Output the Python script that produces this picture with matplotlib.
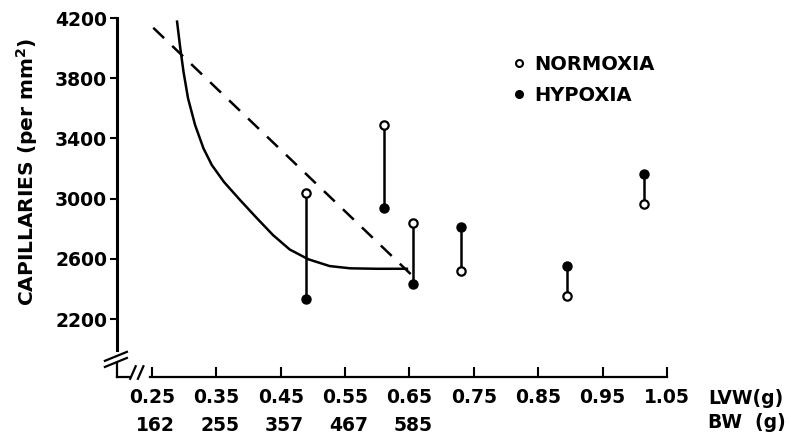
import matplotlib.pyplot as plt
from matplotlib.lines import Line2D

plt.rcParams['font.weight'] = 'bold'

# paired measurements (LVW in g, capillaries per mm2)
lvw = [0.49, 0.61, 0.655, 0.73, 0.895, 1.015]
normoxia = [3040, 3490, 2840, 2520, 2350, 2965]
hypoxia = [2335, 2940, 2435, 2810, 2555, 3165]

# solid fitted curve
curve_x = [0.289, 0.294, 0.299, 0.306, 0.317, 0.330, 0.343, 0.362, 0.387,
           0.413, 0.438, 0.464, 0.493, 0.526, 0.558, 0.599, 0.646]
curve_y = [4176, 3999, 3843, 3667, 3489, 3334, 3223, 3110, 2990,
           2870, 2758, 2662, 2597, 2552, 2537, 2534, 2534]

# dashed line
dash_x = [0.252, 0.654]
dash_y = [4135, 2490]

# axis ticks
xticks = [0.25, 0.35, 0.45, 0.55, 0.65, 0.75, 0.85, 0.95, 1.05]
bw = ['162', '255', '357', '467', '585', '', '', '', '']
yticks = [2200, 2600, 3000, 3400, 3800, 4200]

fig = plt.figure(figsize=(7.91, 4.36), dpi=100)
ax = fig.add_axes([117 / 791, 59 / 436, 550 / 791, 359 / 436])
ax.set_xlim(0.1957, 1.05)
ax.set_ylim(1815, 4200)

# vertical connectors and markers
for x, n, h in zip(lvw, normoxia, hypoxia):
    ax.plot([x, x], [n, h], color='black', lw=1.8, clip_on=False)
ax.plot(lvw, hypoxia, 'o', color='black', ms=6.5, clip_on=False, zorder=3)
ax.plot(lvw, normoxia, 'o', mfc='white', mec='black', mew=1.6, ms=6, clip_on=False, zorder=3)

ax.plot(curve_x, curve_y, color='black', lw=1.8, solid_joinstyle='round')
ax.plot(dash_x, dash_y, color='black', lw=1.8, dashes=(6, 4.5))

# spines
for s in ['top', 'right']:
    ax.spines[s].set_visible(False)
ax.spines['left'].set_linewidth(2.2)
ax.spines['bottom'].set_linewidth(1.6)
ax.spines['left'].set_bounds(1994, 4200)
ax.spines['bottom'].set_bounds(0.247, 1.05)

# axis break marks
brk = dict(color='black', lw=1.6, transform=ax.transAxes, clip_on=False)
ax.plot([0, 0], [0, 0.035], **brk)
ax.plot([0, 0.022], [0, 0], **brk)
ax.plot([-0.022, 0.018], [0.045, 0.07], **brk)
ax.plot([-0.022, 0.018], [0.028, 0.053], **brk)
ax.plot([0.024, 0.034], [-0.005, 0.03], **brk)
ax.plot([0.038, 0.048], [-0.005, 0.03], **brk)

ax.set_xticks(xticks)
ax.set_xticklabels(['%.2f\n%s' % (t, b) if b else '%.2f' % t for t, b in zip(xticks, bw)])
ax.set_yticks(yticks)
ax.tick_params(axis='x', direction='in', length=7, width=1.5, pad=8, labelsize=13.5)
ax.tick_params(axis='y', direction='out', length=5, width=1.5, pad=2, labelsize=13.5)
for lab in ax.get_xticklabels():
    lab.set_multialignment('right')
    lab.set_linespacing(1.6)

fig.text(27 / 791, 1 - 172 / 436, 'CAPILLARIES (per mm$^2$)', rotation=90,
         ha='center', va='center', fontsize=14.5)
fig.text(708 / 791, 1 - 398 / 436, 'LVW(g)', ha='left', va='center', fontsize=13.5)
fig.text(708 / 791, 1 - 422 / 436, 'BW  (g)', ha='left', va='center', fontsize=13.5)

handles = [
    Line2D([], [], marker='o', ls='none', mfc='white', mec='black', mew=1.5, ms=5, label='NORMOXIA'),
    Line2D([], [], marker='o', ls='none', color='black', ms=5.5, label='HYPOXIA'),
]
ax.legend(handles=handles, loc='upper left', bbox_to_anchor=((511 - 117) / 550, (377 - 55) / 359),
          frameon=False, fontsize=14, handlelength=0.8, handletextpad=0.4,
          labelspacing=0.62, borderpad=0, borderaxespad=0)

fig.savefig('out.png', dpi=100)
